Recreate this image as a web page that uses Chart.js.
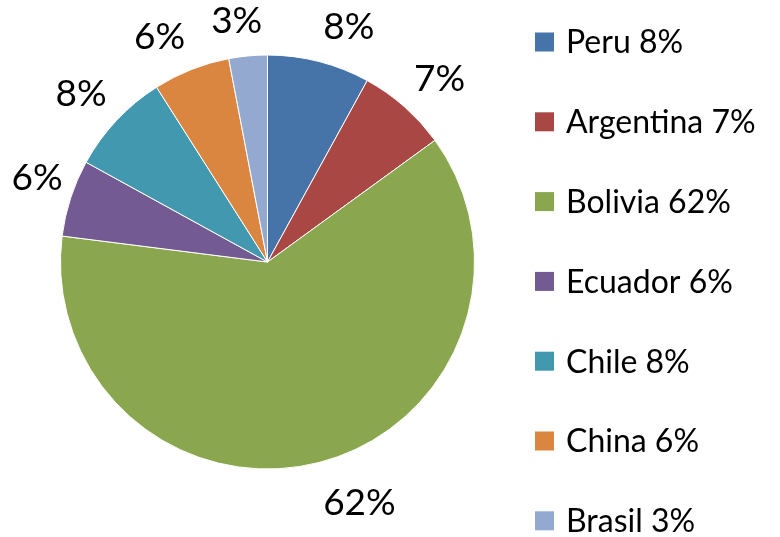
<!DOCTYPE html>
<html>
<head>
<meta charset="utf-8">
<script src="https://cdn.jsdelivr.net/npm/chart.js@4/dist/chart.umd.min.js"></script>
<style>
html,body{margin:0;padding:0;background:#fff;}
#wrap{width:780px;height:537px;position:relative;}
</style>
</head>
<body>
<div id="wrap"><canvas id="c" width="780" height="537"></canvas></div>
<script>
const categories = ["Peru", "Argentina", "Bolivia", "Ecuador", "Chile", "China", "Brasil"];
const shares = [8, 7, 62, 6, 8, 6, 3];
const colors = ["#4674A8", "#A94745", "#8AA64E", "#735A93", "#4198AF", "#DA8640", "#94A9D0"];

const FONT = "Lato, 'Open Sans', sans-serif";

const labelPlugin = {
  id: 'outsideLabels',
  afterDraw(chart) {
    const ctx = chart.ctx;
    const meta = chart.getDatasetMeta(0);
    ctx.save();
    ctx.fillStyle = '#000';
    ctx.font = '37px ' + FONT;
    ctx.textAlign = 'center';
    ctx.textBaseline = 'middle';
    meta.data.forEach((arc, i) => {
      const mid = (arc.startAngle + arc.endAngle) / 2;
      const a = mid + Math.PI / 2; // angle from top, clockwise
      const s = Math.sin(a), c = Math.cos(a);
      const r = arc.outerRadius + 4 + 14 * Math.abs(c);
      const px = arc.x + r * s, py = arc.y - r * c;
      const txt = shares[i] + '%';
      const hw = ctx.measureText(txt).width / 2;
      const hh = c < 0 ? 24 : 17;
      const cl = v => Math.max(-1, Math.min(1, v));
      ctx.fillText(txt, px + hw * cl(4 * s), py - hh * cl(4 * c));
    });
    // legend
    const lx = 535, ly0 = 42, step = 79.8, sq = 19;
    ctx.font = '32px ' + FONT;
    ctx.textAlign = 'left';
    categories.forEach((name, i) => {
      const y = ly0 + i * step;
      ctx.fillStyle = colors[i];
      ctx.fillRect(lx, y - sq / 2, sq, sq);
      ctx.fillStyle = '#000';
      ctx.fillText(name + ' ' + shares[i] + '%', 566, y + 1);
    });
    ctx.restore();
  }
};

new Chart(document.getElementById('c'), {
  type: 'pie',
  data: {
    labels: categories,
    datasets: [{
      data: shares,
      backgroundColor: colors,
      borderColor: '#ffffff',
      borderWidth: 1
    }]
  },
  options: {
    responsive: false,
    animation: false,
    layout: { padding: { left: 60, right: 305, top: 54, bottom: 67 } },
    plugins: {
      legend: { display: false },
      tooltip: { enabled: false }
    }
  },
  plugins: [labelPlugin]
});
</script>
</body>
</html>
